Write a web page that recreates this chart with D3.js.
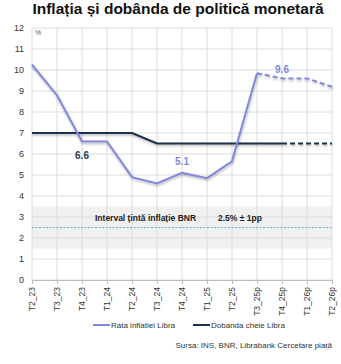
<!DOCTYPE html>
<html>
<head>
<meta charset="utf-8">
<script src="https://cdn.jsdelivr.net/npm/d3@7"></script>
<style>
body { margin: 0; background: #fff; }
svg { display: block; font-family: "Liberation Sans", Arial, sans-serif; }
</style>
</head>
<body>
<svg id="chart" width="341" height="364"></svg>
<script>
// quarters on the x axis
var quarters = ["T2_23", "T3_23", "T4_23", "T1_24", "T2_24", "T3_24", "T4_24", "T1_25", "T2_25", "T3_25p", "T4_25p", "T1_26p", "T2_26p"];
// annual inflation, %
var inflation = [10.25, 8.8, 6.6, 6.6, 4.9, 4.6, 5.1, 4.85, 5.65, 9.85, 9.6, 9.6, 9.2];
// key policy rate, %
var policyRate = [7.0, 7.0, 7.0, 7.0, 7.0, 6.5, 6.5, 6.5, 6.5, 6.5, 6.5, 6.5, 6.5];
var yTicks = [0, 1, 2, 3, 4, 5, 6, 7, 8, 9, 10, 11, 12];
// inflation target band
var targetMid = 2.5, targetLow = 1.5, targetHigh = 3.5;
// first forecast index for each series (dashed from there)
var INFL_FORECAST = 9;
var RATE_FORECAST = 10;
// inflation values written on the chart: [index, colour, dy]
var labels = [[2, "#2b3a58", 18], [6, "#7f88dd", -8], [10, "#7f88dd", -5]];

var INFL_COLOR = "#7f88dd";
var RATE_COLOR = "#1c3249";

var svg = d3.select("#chart");
var PLOT_L = 32, PLOT_R = 332, PLOT_T = 28, PLOT_B = 280;

var x = d3.scalePoint().domain(quarters).range([PLOT_L, PLOT_R]);
var y = d3.scaleLinear().domain([0, 12]).range([PLOT_B, PLOT_T]);

// shadow filter in user space so flat line pieces still render
var defs = svg.append("defs");
var f = defs.append("filter").attr("id", "shadow")
	.attr("filterUnits", "userSpaceOnUse")
	.attr("x", 0).attr("y", 0).attr("width", 341).attr("height", 364);
f.append("feDropShadow").attr("dx", 0.5).attr("dy", 1.5).attr("stdDeviation", 1).attr("flood-color", "#000").attr("flood-opacity", 0.3);

// title
svg.append("text")
	.attr("x", 178).attr("y", 14)
	.attr("text-anchor", "middle")
	.attr("font-size", 15.5).attr("font-weight", "bold")
	.attr("fill", "#111")
	.text("Inflația și dobânda de politică monetară");

// target band
svg.append("rect")
	.attr("x", PLOT_L).attr("width", PLOT_R - PLOT_L)
	.attr("y", y(targetHigh)).attr("height", y(targetLow) - y(targetHigh))
	.attr("fill", "#f0f0f0");

// grid
svg.append("g").selectAll("line").data(yTicks).enter().append("line")
	.attr("x1", PLOT_L).attr("x2", PLOT_R)
	.attr("y1", function(d){ return y(d); }).attr("y2", function(d){ return y(d); })
	.attr("stroke", "#dcdcdc").attr("stroke-width", 1);
svg.append("g").selectAll("line").data(quarters).enter().append("line")
	.attr("x1", function(d){ return x(d); }).attr("x2", function(d){ return x(d); })
	.attr("y1", PLOT_T).attr("y2", PLOT_B)
	.attr("stroke", "#dcdcdc").attr("stroke-width", 1);

// target mid line
svg.append("line")
	.attr("x1", PLOT_L).attr("x2", PLOT_R)
	.attr("y1", y(targetMid)).attr("y2", y(targetMid))
	.attr("stroke", "#5cb3d3").attr("stroke-width", 1).attr("stroke-dasharray", "2,1.5");

svg.append("text")
	.attr("x", 95).attr("y", y(3) + 4)
	.attr("font-size", 8.5).attr("font-weight", "bold").attr("fill", "#222")
	.text("Interval țintă inflație BNR");
svg.append("text")
	.attr("x", 218).attr("y", y(3) + 4)
	.attr("font-size", 8.5).attr("font-weight", "bold").attr("fill", "#222")
	.text("2.5% ± 1pp");

// axes
var yAxis = d3.axisLeft(y).tickValues(yTicks).tickSize(0).tickPadding(8);
var gy = svg.append("g").attr("transform", "translate(" + PLOT_L + ",0)").call(yAxis);
gy.select(".domain").remove();
gy.selectAll("text").attr("font-size", 9).attr("fill", "#333").attr("font-family", "Liberation Sans, Arial, sans-serif");

var xAxis = d3.axisBottom(x).tickSize(4);
var gx = svg.append("g").attr("transform", "translate(0," + PLOT_B + ")").call(xAxis);
gx.select(".domain").attr("stroke", "#bbb");
gx.selectAll(".tick line").attr("stroke", "#bbb");
gx.selectAll("text")
	.attr("font-size", 8.5).attr("fill", "#333").attr("font-family", "Liberation Sans, Arial, sans-serif")
	.attr("transform", "rotate(-90)")
	.attr("text-anchor", "end")
	.attr("x", -7).attr("y", 0).attr("dy", "0.35em");

svg.append("text")
	.attr("x", 35).attr("y", 35)
	.attr("font-size", 7).attr("fill", "#555")
	.text("%");

// series lines, solid for actuals and dashed for the forecast
function drawSeries(vals, split, color)
{
	var pts = vals.map(function(v, i){ return [x(quarters[i]), y(v)]; });
	var line = d3.line();
	svg.append("path")
		.attr("d", line(pts.slice(0, split + 1)))
		.attr("fill", "none").attr("stroke", color).attr("stroke-width", 2)
		.attr("filter", "url(#shadow)");
	svg.append("path")
		.attr("d", line(pts.slice(split)))
		.attr("fill", "none").attr("stroke", color).attr("stroke-width", 2)
		.attr("stroke-dasharray", "5,3")
		.attr("filter", "url(#shadow)");
}
drawSeries(policyRate, RATE_FORECAST, RATE_COLOR);
drawSeries(inflation, INFL_FORECAST, INFL_COLOR);

// value labels
svg.append("g").selectAll("text").data(labels).enter().append("text")
	.attr("x", function(d){ return x(quarters[d[0]]); })
	.attr("y", function(d){ return y(inflation[d[0]]) + d[2]; })
	.attr("text-anchor", "middle")
	.attr("font-size", 10).attr("font-weight", "bold")
	.attr("fill", function(d){ return d[1]; })
	.text(function(d){ return d3.format(".1f")(inflation[d[0]]); });

// legend
var legend = [["Rata inflatiei Libra", INFL_COLOR, 93], ["Dobanda cheie Libra", RATE_COLOR, 193]];
var lg = svg.append("g").selectAll("g").data(legend).enter().append("g");
lg.append("line")
	.attr("x1", function(d){ return d[2]; }).attr("x2", function(d){ return d[2] + 17; })
	.attr("y1", 325).attr("y2", 325)
	.attr("stroke", function(d){ return d[1]; }).attr("stroke-width", 2);
lg.append("text")
	.attr("x", function(d){ return d[2] + 18; }).attr("y", 328)
	.attr("font-size", 8).attr("fill", "#333")
	.text(function(d){ return d[0]; });

// source note
svg.append("text")
	.attr("x", 332).attr("y", 348)
	.attr("text-anchor", "end")
	.attr("font-size", 8).attr("fill", "#333")
	.text("Sursa: INS, BNR, Librabank Cercetare piață");
</script>
</body>
</html>
